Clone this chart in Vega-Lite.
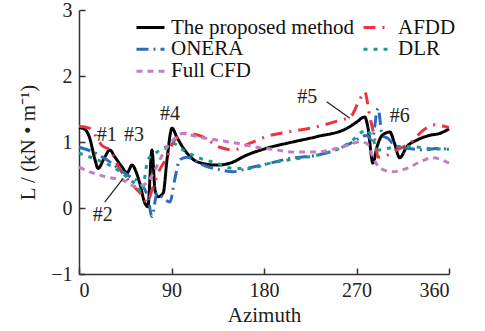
{
  "$schema": "https://vega.github.io/schema/vega-lite/v6.json",
  "width": 370,
  "height": 264,
  "autosize": "none",
  "padding": {"left": 79, "top": 10, "right": 36, "bottom": 57},
  "background": "white",
  "config": {
    "font": "Liberation Serif",
    "view": {"stroke": null},
    "axis": {"grid": false, "domainColor": "#333", "domainWidth": 1.5, "tickColor": "#333", "tickWidth": 1.5, "tickSize": -6, "labelFont": "Liberation Serif", "labelFontSize": 20, "labelColor": "#222", "titleFont": "Liberation Serif", "titleFontSize": 21, "titleFontWeight": "normal", "titleColor": "#222"},
    "legend": {"labelFont": "Liberation Serif", "labelFontSize": 21, "labelColor": "#111", "labelLimit": 400}
  },
  "layer": [
    {
      "data": {"values": [
        {"series": "The proposed method", "az": 0, "L": 1.22}, {"series": "The proposed method", "az": 5, "L": 1.2}, {"series": "The proposed method", "az": 10, "L": 1.08}, {"series": "The proposed method", "az": 15.6, "L": 0.73}, {"series": "The proposed method", "az": 18.5, "L": 0.6}, {"series": "The proposed method", "az": 25, "L": 0.77}, {"series": "The proposed method", "az": 30, "L": 0.88}, {"series": "The proposed method", "az": 35, "L": 0.77}, {"series": "The proposed method", "az": 42, "L": 0.62}, {"series": "The proposed method", "az": 46.7, "L": 0.53}, {"series": "The proposed method", "az": 51.6, "L": 0.65}, {"series": "The proposed method", "az": 56, "L": 0.53}, {"series": "The proposed method", "az": 59, "L": 0.38}, {"series": "The proposed method", "az": 64, "L": 0.08}, {"series": "The proposed method", "az": 67, "L": 0.02}, {"series": "The proposed method", "az": 71, "L": 0.88}, {"series": "The proposed method", "az": 74, "L": 0.27}, {"series": "The proposed method", "az": 77, "L": 0.17}, {"series": "The proposed method", "az": 82, "L": 0.23}, {"series": "The proposed method", "az": 85.6, "L": 0.73}, {"series": "The proposed method", "az": 90.5, "L": 1.21}, {"series": "The proposed method", "az": 95, "L": 1.08}, {"series": "The proposed method", "az": 101, "L": 0.92}, {"series": "The proposed method", "az": 108, "L": 0.78}, {"series": "The proposed method", "az": 115, "L": 0.7}, {"series": "The proposed method", "az": 134, "L": 0.65}, {"series": "The proposed method", "az": 147, "L": 0.68}, {"series": "The proposed method", "az": 163, "L": 0.8}, {"series": "The proposed method", "az": 186, "L": 0.92}, {"series": "The proposed method", "az": 205, "L": 0.99}, {"series": "The proposed method", "az": 231, "L": 1.08}, {"series": "The proposed method", "az": 261, "L": 1.21}, {"series": "The proposed method", "az": 270, "L": 1.3}, {"series": "The proposed method", "az": 278, "L": 1.38}, {"series": "The proposed method", "az": 281, "L": 1.23}, {"series": "The proposed method", "az": 286, "L": 0.68}, {"series": "The proposed method", "az": 290, "L": 0.93}, {"series": "The proposed method", "az": 295, "L": 1.1}, {"series": "The proposed method", "az": 302.5, "L": 1.15}, {"series": "The proposed method", "az": 307, "L": 0.98}, {"series": "The proposed method", "az": 312, "L": 0.76}, {"series": "The proposed method", "az": 319, "L": 0.93}, {"series": "The proposed method", "az": 329, "L": 1.03}, {"series": "The proposed method", "az": 341, "L": 1.1}, {"series": "The proposed method", "az": 351, "L": 1.13}, {"series": "The proposed method", "az": 360, "L": 1.2},
        {"series": "AFDD", "az": 0, "L": 1.24}, {"series": "AFDD", "az": 10, "L": 1.21}, {"series": "AFDD", "az": 16, "L": 1.1}, {"series": "AFDD", "az": 22, "L": 0.95}, {"series": "AFDD", "az": 30, "L": 0.88}, {"series": "AFDD", "az": 40, "L": 0.58}, {"series": "AFDD", "az": 48, "L": 0.42}, {"series": "AFDD", "az": 55, "L": 0.3}, {"series": "AFDD", "az": 62, "L": 0.18}, {"series": "AFDD", "az": 66, "L": 0.08}, {"series": "AFDD", "az": 71, "L": 0.27}, {"series": "AFDD", "az": 77, "L": 0.53}, {"series": "AFDD", "az": 85.6, "L": 0.77}, {"series": "AFDD", "az": 93, "L": 1.03}, {"series": "AFDD", "az": 105, "L": 1.13}, {"series": "AFDD", "az": 120, "L": 1.08}, {"series": "AFDD", "az": 137, "L": 0.92}, {"series": "AFDD", "az": 150, "L": 0.88}, {"series": "AFDD", "az": 166, "L": 0.98}, {"series": "AFDD", "az": 186, "L": 1.1}, {"series": "AFDD", "az": 199, "L": 1.14}, {"series": "AFDD", "az": 231, "L": 1.23}, {"series": "AFDD", "az": 254, "L": 1.33}, {"series": "AFDD", "az": 264, "L": 1.38}, {"series": "AFDD", "az": 273, "L": 1.64}, {"series": "AFDD", "az": 278, "L": 1.76}, {"series": "AFDD", "az": 283, "L": 1.38}, {"series": "AFDD", "az": 288, "L": 1.03}, {"series": "AFDD", "az": 291, "L": 0.77}, {"series": "AFDD", "az": 300, "L": 0.8}, {"series": "AFDD", "az": 309, "L": 0.88}, {"series": "AFDD", "az": 322, "L": 0.98}, {"series": "AFDD", "az": 335, "L": 1.18}, {"series": "AFDD", "az": 346, "L": 1.26}, {"series": "AFDD", "az": 355, "L": 1.24}, {"series": "AFDD", "az": 360, "L": 1.22},
        {"series": "ONERA", "az": 0, "L": 0.92}, {"series": "ONERA", "az": 13.6, "L": 0.85}, {"series": "ONERA", "az": 27, "L": 0.73}, {"series": "ONERA", "az": 40, "L": 0.58}, {"series": "ONERA", "az": 50, "L": 0.47}, {"series": "ONERA", "az": 59, "L": 0.38}, {"series": "ONERA", "az": 67, "L": 0.17}, {"series": "ONERA", "az": 71, "L": -0.13}, {"series": "ONERA", "az": 76, "L": 0.23}, {"series": "ONERA", "az": 82, "L": 0.15}, {"series": "ONERA", "az": 88.5, "L": 0.09}, {"series": "ONERA", "az": 93, "L": 0.42}, {"series": "ONERA", "az": 98, "L": 0.73}, {"series": "ONERA", "az": 105, "L": 0.77}, {"series": "ONERA", "az": 120.6, "L": 0.65}, {"series": "ONERA", "az": 137, "L": 0.58}, {"series": "ONERA", "az": 150, "L": 0.55}, {"series": "ONERA", "az": 166, "L": 0.61}, {"series": "ONERA", "az": 186, "L": 0.68}, {"series": "ONERA", "az": 205, "L": 0.75}, {"series": "ONERA", "az": 231, "L": 0.8}, {"series": "ONERA", "az": 250, "L": 0.88}, {"series": "ONERA", "az": 264, "L": 0.98}, {"series": "ONERA", "az": 280, "L": 1.1}, {"series": "ONERA", "az": 285, "L": 1.03}, {"series": "ONERA", "az": 291, "L": 1.51}, {"series": "ONERA", "az": 295, "L": 1.1}, {"series": "ONERA", "az": 300, "L": 1.06}, {"series": "ONERA", "az": 309, "L": 0.93}, {"series": "ONERA", "az": 322, "L": 0.9}, {"series": "ONERA", "az": 335, "L": 0.88}, {"series": "ONERA", "az": 348, "L": 0.9}, {"series": "ONERA", "az": 360, "L": 0.89},
        {"series": "DLR", "az": 0, "L": 0.83}, {"series": "DLR", "az": 17.5, "L": 0.73}, {"series": "DLR", "az": 33, "L": 0.62}, {"series": "DLR", "az": 46.7, "L": 0.47}, {"series": "DLR", "az": 57, "L": 0.32}, {"series": "DLR", "az": 61, "L": 0.23}, {"series": "DLR", "az": 67, "L": 0.73}, {"series": "DLR", "az": 76, "L": 0.85}, {"series": "DLR", "az": 85.6, "L": 0.93}, {"series": "DLR", "az": 91.4, "L": 0.98}, {"series": "DLR", "az": 101, "L": 0.88}, {"series": "DLR", "az": 115, "L": 0.77}, {"series": "DLR", "az": 134, "L": 0.68}, {"series": "DLR", "az": 150, "L": 0.6}, {"series": "DLR", "az": 166, "L": 0.6}, {"series": "DLR", "az": 186, "L": 0.68}, {"series": "DLR", "az": 205, "L": 0.73}, {"series": "DLR", "az": 231, "L": 0.8}, {"series": "DLR", "az": 250, "L": 0.88}, {"series": "DLR", "az": 264, "L": 1.0}, {"series": "DLR", "az": 280, "L": 1.18}, {"series": "DLR", "az": 285, "L": 1.08}, {"series": "DLR", "az": 291, "L": 0.88}, {"series": "DLR", "az": 300, "L": 0.9}, {"series": "DLR", "az": 309, "L": 0.93}, {"series": "DLR", "az": 324, "L": 0.93}, {"series": "DLR", "az": 341, "L": 0.9}, {"series": "DLR", "az": 360, "L": 0.89},
        {"series": "Full CFD", "az": 0, "L": 0.62}, {"series": "Full CFD", "az": 13.6, "L": 0.53}, {"series": "Full CFD", "az": 27, "L": 0.47}, {"series": "Full CFD", "az": 43, "L": 0.42}, {"series": "Full CFD", "az": 56, "L": 0.32}, {"series": "Full CFD", "az": 66, "L": 0.38}, {"series": "Full CFD", "az": 74, "L": 0.58}, {"series": "Full CFD", "az": 82, "L": 0.83}, {"series": "Full CFD", "az": 91.4, "L": 1.03}, {"series": "Full CFD", "az": 101, "L": 1.13}, {"series": "Full CFD", "az": 115, "L": 1.08}, {"series": "Full CFD", "az": 134, "L": 1.03}, {"series": "Full CFD", "az": 154, "L": 0.98}, {"series": "Full CFD", "az": 173, "L": 0.92}, {"series": "Full CFD", "az": 193, "L": 0.88}, {"series": "Full CFD", "az": 205, "L": 0.85}, {"series": "Full CFD", "az": 231, "L": 0.85}, {"series": "Full CFD", "az": 257, "L": 0.93}, {"series": "Full CFD", "az": 273, "L": 1.0}, {"series": "Full CFD", "az": 280, "L": 0.98}, {"series": "Full CFD", "az": 286, "L": 0.77}, {"series": "Full CFD", "az": 293, "L": 0.6}, {"series": "Full CFD", "az": 305, "L": 0.55}, {"series": "Full CFD", "az": 319, "L": 0.6}, {"series": "Full CFD", "az": 332, "L": 0.7}, {"series": "Full CFD", "az": 344, "L": 0.76}, {"series": "Full CFD", "az": 360, "L": 0.68}
      ]},
      "mark": {"type": "line", "strokeWidth": 3, "interpolate": "monotone"},
      "encoding": {
        "x": {"field": "az", "type": "quantitative", "scale": {"domain": [0, 360], "nice": false}, "axis": {"values": [0, 90, 180, 270, 360], "title": "Azimuth", "labelPadding": 12, "titlePadding": 4}},
        "y": {"field": "L", "type": "quantitative", "scale": {"domain": [-1, 3], "nice": false}, "axis": {"values": [-1, 0, 1, 2, 3], "format": "d", "title": "L / (kN • m⁻¹)", "labelPadding": 13, "titlePadding": 12}},
        "color": {"field": "series", "type": "nominal", "scale": {"domain": ["The proposed method", "ONERA", "Full CFD", "AFDD", "DLR"], "range": ["#000000", "#2e6bbb", "#c47fc2", "#ec3340", "#1f998e"]},
          "legend": {"title": null, "orient": "none", "legendX": 56, "legendY": 7, "columns": 2, "columnPadding": 7, "rowPadding": 0, "clipHeight": 20.5, "padding": 0, "symbolType": "stroke", "symbolSize": 784, "symbolStrokeWidth": 3, "labelOffset": 5}},
        "strokeDash": {"field": "series", "type": "nominal", "scale": {"domain": ["The proposed method", "ONERA", "Full CFD", "AFDD", "DLR"], "range": [[1, 0], [12, 5, 2, 5], [6, 5], [12, 7, 2, 7], [4, 6]]}, "legend": {"title": null}}
      }
    },
    {
      "data": {"values": [
        {"x1": 25, "y1": 0.09, "x2": 43, "y2": 0.45},
        {"x1": 241, "y1": 1.61, "x2": 263.6, "y2": 1.36}
      ]},
      "mark": {"type": "rule", "color": "#222", "strokeWidth": 1.2},
      "encoding": {
        "x": {"field": "x1", "type": "quantitative"},
        "y": {"field": "y1", "type": "quantitative"},
        "x2": {"field": "x2"},
        "y2": {"field": "y2"}
      }
    },
    {
      "data": {"values": [
        {"label": "#1", "x": 27, "y": 1.1},
        {"label": "#3", "x": 53.5, "y": 1.1},
        {"label": "#4", "x": 88.5, "y": 1.43},
        {"label": "#2", "x": 23, "y": -0.1},
        {"label": "#5", "x": 222, "y": 1.68},
        {"label": "#6", "x": 312, "y": 1.4}
      ]},
      "mark": {"type": "text", "fontSize": 20, "font": "Liberation Serif", "color": "#222"},
      "encoding": {
        "x": {"field": "x", "type": "quantitative"},
        "y": {"field": "y", "type": "quantitative"},
        "text": {"field": "label"}
      }
    }
  ]
}
